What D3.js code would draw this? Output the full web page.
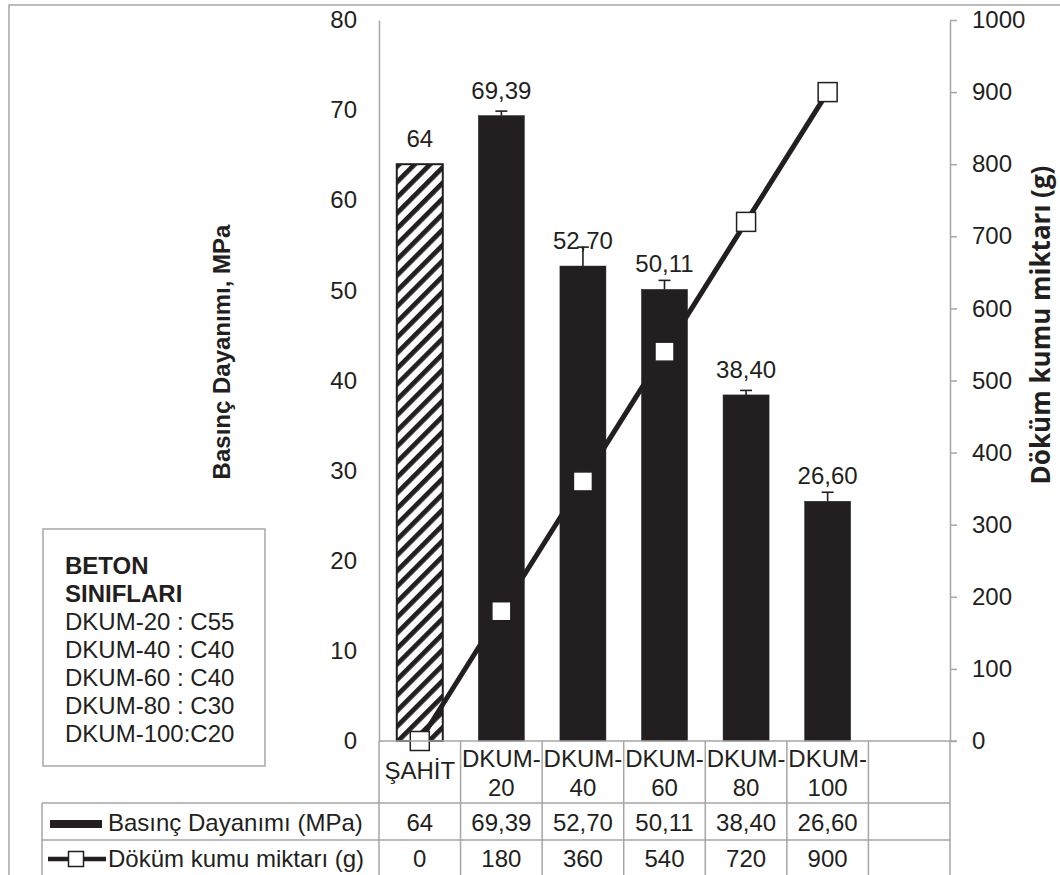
<!DOCTYPE html>
<html>
<head>
<meta charset="utf-8">
<script src="https://cdn.jsdelivr.net/npm/d3@7"></script>
<style>
  html, body { margin: 0; padding: 0; background: #ffffff; }
  svg { display: block; }
  text { font-family: "Liberation Sans", Arial, sans-serif; fill: #231f20; }
</style>
</head>
<body>
<svg id="chart" width="1060" height="875"></svg>
<script>
// Concrete samples (x categories)
const categories = ["ŞAHİT", "DKUM-20", "DKUM-40", "DKUM-60", "DKUM-80", "DKUM-100"];
// Compressive strength, MPa (left axis, bars)
const strength = [64, 69.39, 52.70, 50.11, 38.40, 26.60];
// Error bar extents above each bar, MPa
const strengthError = [null, 0.5, 2.1, 1.0, 0.5, 1.0];
// Foundry sand amount, g (right axis, line)
const sandAmount = [0, 180, 360, 540, 720, 900];
// Axis ticks
const leftTicks = [0, 10, 20, 30, 40, 50, 60, 70, 80];
const rightTicks = [0, 100, 200, 300, 400, 500, 600, 700, 800, 900, 1000];
// Concrete class note
const classTitle = ["BETON", "SINIFLARI"];
const classLines = ["DKUM-20 : C55", "DKUM-40 : C40", "DKUM-60 : C40", "DKUM-80 : C30", "DKUM-100:C20"];
const seriesNames = ["Basınç Dayanımı (MPa)", "Döküm kumu miktarı (g)"];
const leftTitle = "Basınç Dayanımı, MPa";
const rightTitle = "Döküm kumu miktarı (g)";

const INK = "#231f20";
const GRID = "#a6a6a6";

const svg = d3.select("#chart");

// plot geometry
const plotLeft = 379, plotRight = 950, plotTop = 20, plotBottom = 741;
const rowBottoms = [803, 840, 877];
const tableLeft = 42;

// one extra empty slot on the right of the category axis
const slots = categories.concat([" "]);

const xBar = d3.scaleBand().domain(slots).range([plotLeft, plotRight])
  .paddingInner(0.436).paddingOuter(0.218);
const xCol = d3.scaleBand().domain(slots).range([plotLeft, plotRight]).padding(0);
const yL = d3.scaleLinear().domain([0, 80]).range([plotBottom, plotTop]);
const yR = d3.scaleLinear().domain([0, 1000]).range([plotBottom, plotTop]);

const tr = d3.formatLocale({ decimal: ",", thousands: ".", grouping: [3], currency: ["", ""] });
const fmt2 = tr.format(".2f");
const fmtVal = v => Number.isInteger(v) ? String(v) : fmt2(v);

// outer frame
svg.append("rect")
  .attr("x", 9).attr("y", 5).attr("width", 1100).attr("height", 1000)
  .attr("fill", "none").attr("stroke", GRID).attr("stroke-width", 1.5);

// hatch pattern for the reference sample
const defs = svg.append("defs");
const pat = defs.append("pattern")
  .attr("id", "hatch").attr("patternUnits", "userSpaceOnUse")
  .attr("width", 11).attr("height", 11)
  .attr("patternTransform", "rotate(45)");
pat.append("rect").attr("width", 11).attr("height", 11).attr("fill", "#ffffff");
pat.append("rect").attr("x", 0).attr("width", 4.8).attr("height", 11).attr("fill", INK);

// left axis (line + labels, no ticks)
const gL = svg.append("g").attr("transform", `translate(${plotLeft},0)`)
  .call(d3.axisLeft(yL).tickValues(leftTicks).tickSize(0).tickPadding(22).tickFormat(d => d));
gL.select(".domain").attr("stroke", GRID).attr("stroke-width", 1.5);
gL.selectAll("text").attr("font-size", 24).attr("fill", INK)
  .attr("font-family", "Liberation Sans, Arial, sans-serif");

// right axis
const gR = svg.append("g").attr("transform", `translate(${plotRight},0)`)
  .call(d3.axisRight(yR).tickValues(rightTicks).tickSizeInner(7).tickSizeOuter(0).tickPadding(15).tickFormat(d => d));
gR.select(".domain").attr("stroke", GRID).attr("stroke-width", 1.5);
gR.selectAll(".tick line").attr("stroke", GRID).attr("stroke-width", 1.5);
gR.selectAll("text").attr("font-size", 24).attr("fill", INK)
  .attr("font-family", "Liberation Sans, Arial, sans-serif");

// bars
svg.append("g").selectAll("rect")
  .data(strength)
  .join("rect")
  .attr("x", (d, i) => xBar(categories[i]))
  .attr("y", d => yL(d))
  .attr("width", xBar.bandwidth())
  .attr("height", d => yL(0) - yL(d))
  .attr("fill", (d, i) => i === 0 ? "url(#hatch)" : INK)
  .attr("stroke", INK)
  .attr("stroke-width", (d, i) => i === 0 ? 2 : 0.5);

// error bars
const eg = svg.append("g").attr("stroke", INK).attr("stroke-width", 1.6);
strength.forEach((v, i) => {
  const e = strengthError[i];
  if (e == null) return;
  const cx = xBar(categories[i]) + xBar.bandwidth() / 2;
  eg.append("line").attr("x1", cx).attr("x2", cx).attr("y1", yL(v)).attr("y2", yL(v + e));
  eg.append("line").attr("x1", cx - 6).attr("x2", cx + 6).attr("y1", yL(v + e)).attr("y2", yL(v + e));
});

// value labels
svg.append("g").selectAll("text")
  .data(strength)
  .join("text")
  .attr("x", (d, i) => xBar(categories[i]) + xBar.bandwidth() / 2)
  .attr("y", d => yL(d) - 17)
  .attr("text-anchor", "middle")
  .attr("font-size", 24)
  .text(d => fmtVal(d));

// sand line + markers
const cxOf = i => xBar(categories[i]) + xBar.bandwidth() / 2;
svg.append("path")
  .datum(sandAmount)
  .attr("d", d3.line().x((d, i) => cxOf(i)).y(d => yR(d)))
  .attr("fill", "none").attr("stroke", INK).attr("stroke-width", 5);
svg.append("g").selectAll("rect")
  .data(sandAmount)
  .join("rect")
  .attr("x", (d, i) => cxOf(i) - 9.5)
  .attr("y", d => yR(d) - 9.5)
  .attr("width", 19).attr("height", 19)
  .attr("fill", "#ffffff").attr("stroke", INK).attr("stroke-width", 1.5);

// data table grid
const tg = svg.append("g").attr("stroke", GRID).attr("stroke-width", 1.5);
tg.append("line").attr("x1", plotLeft).attr("x2", plotRight + 7).attr("y1", plotBottom).attr("y2", plotBottom);
rowBottoms.slice(0, 2).forEach(y => {
  tg.append("line").attr("x1", tableLeft).attr("x2", plotRight).attr("y1", y).attr("y2", y);
});
tg.append("line").attr("x1", tableLeft).attr("x2", tableLeft).attr("y1", rowBottoms[0]).attr("y2", 900);
slots.forEach(s => {
  const x = xCol(s);
  tg.append("line").attr("x1", x).attr("x2", x).attr("y1", plotBottom).attr("y2", 900);
});
tg.append("line").attr("x1", plotRight).attr("x2", plotRight).attr("y1", plotBottom).attr("y2", 900);

// category header
const hg = svg.append("g");
categories.forEach(c => {
  const cx = xCol(c) + xCol.bandwidth() / 2;
  const t = hg.append("text").attr("x", cx).attr("font-size", 24).attr("text-anchor", "middle");
  const k = c.indexOf("-");
  if (k < 0) {
    t.attr("y", 779).text(c);
  } else {
    t.append("tspan").attr("x", cx).attr("y", 767).text(c.slice(0, k + 1));
    t.append("tspan").attr("x", cx).attr("y", 796).text(c.slice(k + 1));
  }
});

// value rows
const rowCenters = [822, 858];
[strength, sandAmount].forEach((arr, r) => {
  svg.append("g").selectAll("text")
    .data(arr)
    .join("text")
    .attr("x", (d, i) => xCol(categories[i]) + xCol.bandwidth() / 2)
    .attr("y", rowCenters[r] + 8.5)
    .attr("text-anchor", "middle")
    .attr("font-size", 24)
    .text(d => r === 0 ? fmtVal(d) : d);
});

// legend keys in the table
svg.append("rect").attr("x", 50).attr("y", 820).attr("width", 52).attr("height", 8).attr("fill", INK);
svg.append("line").attr("x1", 48).attr("x2", 106).attr("y1", 859).attr("y2", 859)
  .attr("stroke", INK).attr("stroke-width", 4.5);
svg.append("rect").attr("x", 68.5).attr("y", 851.5).attr("width", 15).attr("height", 15)
  .attr("fill", "#ffffff").attr("stroke", INK).attr("stroke-width", 1.5);
seriesNames.forEach((n, i) => {
  svg.append("text").attr("x", 108).attr("y", rowCenters[i] + 8.5)
    .attr("font-size", 24).text(n);
});

// concrete class note box
svg.append("rect").attr("x", 43).attr("y", 529).attr("width", 222).attr("height", 237)
  .attr("fill", "#ffffff").attr("stroke", GRID).attr("stroke-width", 1.5);
classTitle.forEach((t, i) => {
  svg.append("text").attr("x", 65).attr("y", 574 + i * 28)
    .attr("font-size", 24).attr("font-weight", "bold").text(t);
});
classLines.forEach((t, i) => {
  svg.append("text").attr("x", 65).attr("y", 630 + i * 28)
    .attr("font-size", 24).text(t);
});

// axis titles
svg.append("text")
  .attr("transform", "translate(230,352) rotate(-90)")
  .attr("text-anchor", "middle")
  .attr("font-size", 24).attr("font-weight", "bold")
  .text(leftTitle);
svg.append("text")
  .attr("transform", "translate(1050,325) rotate(-90)")
  .attr("text-anchor", "middle")
  .attr("font-size", 26).attr("font-weight", "bold")
  .style("font-family", "'Open Sans', sans-serif")
  .text(rightTitle);
</script>
</body>
</html>
